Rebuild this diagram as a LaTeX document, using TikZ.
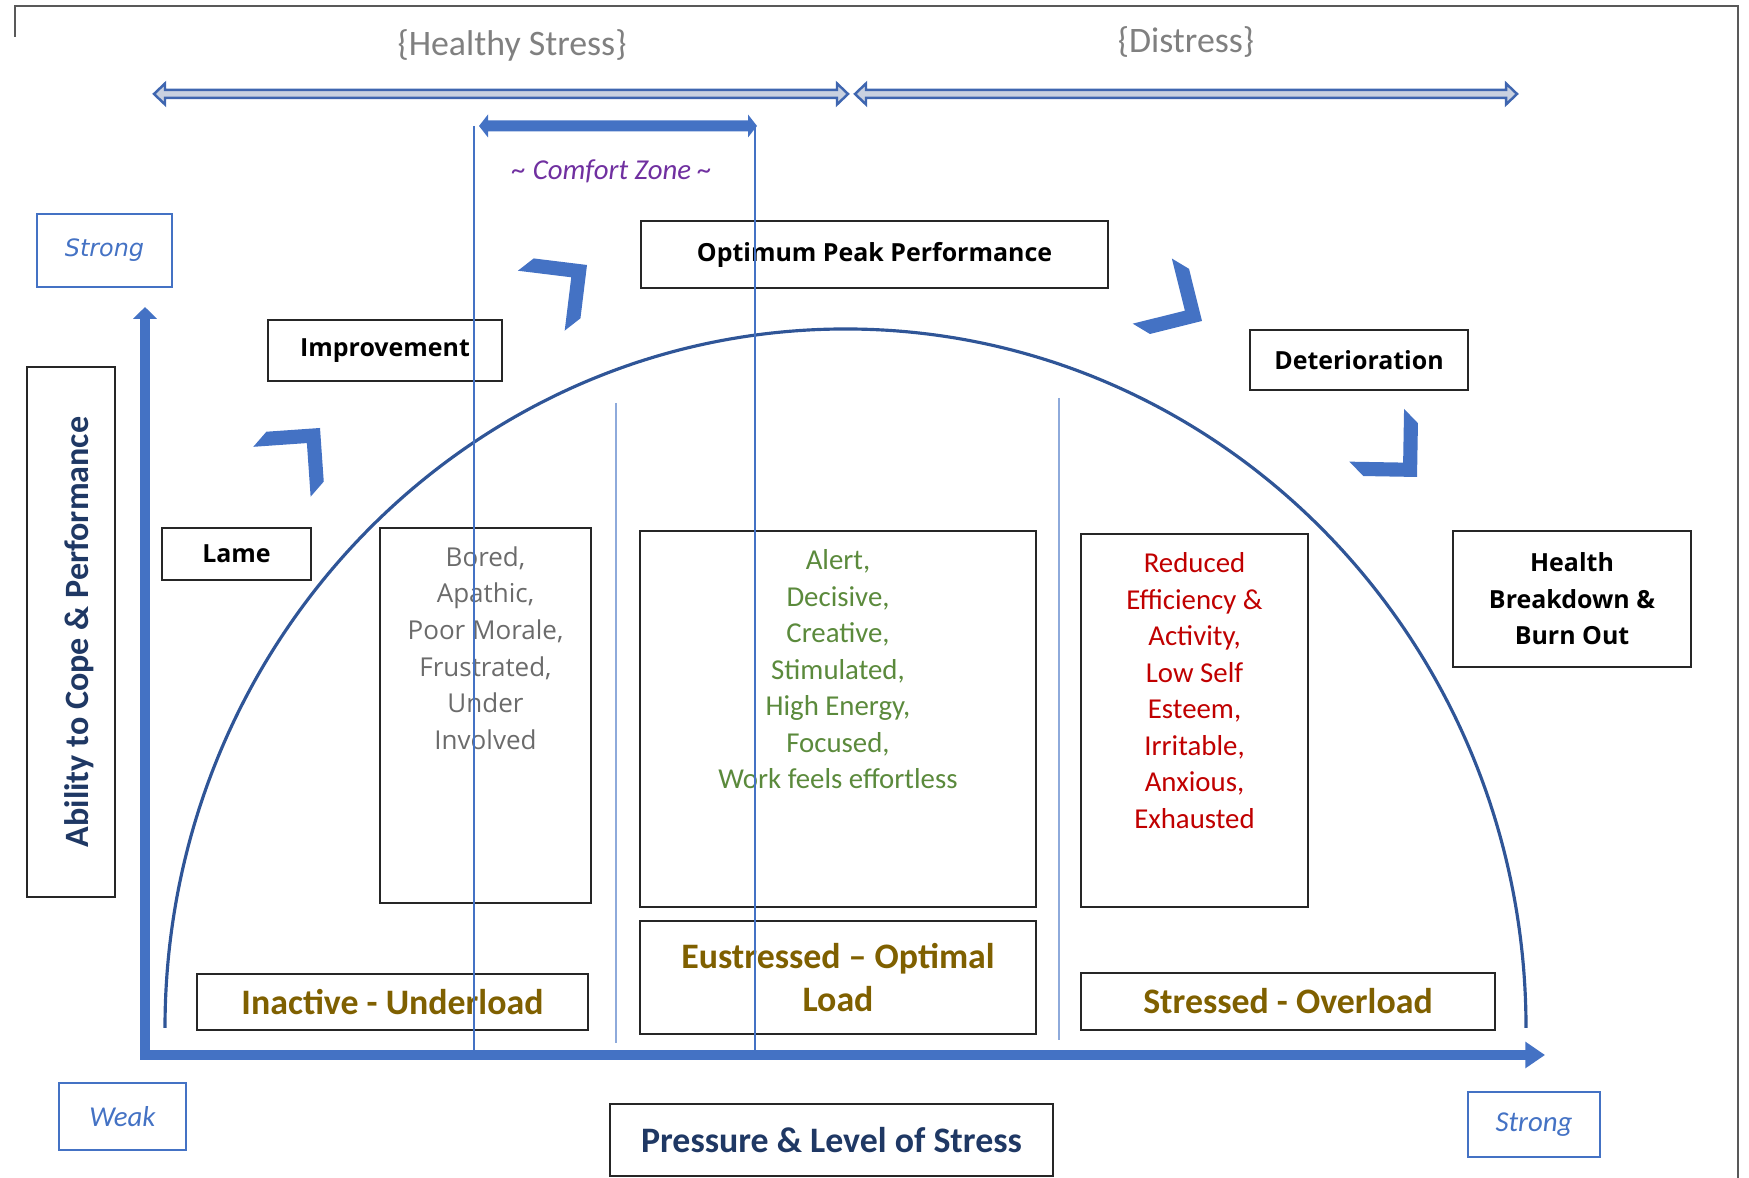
\documentclass[tikz,border=0pt]{standalone}
\usepackage{fontspec}
\setmainfont{Carlito}
\newfontfamily\tagfont{Open Sans}
\newfontfamily\widefont{DejaVu Sans}
\usetikzlibrary{positioning,arrows.meta}

\definecolor{axisblue}{HTML}{4472C4}
\definecolor{archblue}{HTML}{2F5597}
\definecolor{divblue}{HTML}{8EAADB}
\definecolor{spanblue}{HTML}{3F66B0}
\definecolor{spanfill}{HTML}{C9D1E0}
\definecolor{boxgray}{HTML}{262626}
\definecolor{framegray}{HTML}{595959}
\definecolor{softgrey}{HTML}{808080}
\definecolor{moodgrey}{HTML}{6B6B6B}
\definecolor{moodgreen}{HTML}{5B8A3C}
\definecolor{moodred}{HTML}{C00000}
\definecolor{loadgold}{HTML}{7F6000}
\definecolor{zonepurple}{HTML}{7030A0}
\definecolor{axisnavy}{HTML}{1F3864}

% block arrow with a head at both ends: style, left x, right x, y, half shaft, half head, head length
\newcommand{\spanarrow}[7]{%
  \path[#1] (#2,#4) -- ({#2+#7},{#4+#6}) -- ({#2+#7},{#4+#5})
    -- ({#3-#7},{#4+#5}) -- ({#3-#7},{#4+#6}) -- (#3,#4)
    -- ({#3-#7},{#4-#6}) -- ({#3-#7},{#4-#5}) -- ({#2+#7},{#4-#5})
    -- ({#2+#7},{#4-#6}) -- cycle;}

\tikzset{
  stagebox/.style={draw=boxgray, line width=0.6pt, inner sep=0pt, align=center,
    font=\tagfont\bfseries\fontsize{7.1}{10.4}\selectfont},
  moodbox/.style={draw=boxgray, line width=0.6pt, inner sep=0pt},
  moodtext/.style={inner sep=0pt, align=center, font=\fontsize{8.2}{10.4}\selectfont},
  loadbox/.style={draw=boxgray, line width=0.6pt, inner sep=0pt, align=center,
    text=loadgold, font=\bfseries\fontsize{10.2}{12.4}\selectfont},
  endbox/.style={draw=axisblue, line width=0.8pt, inner sep=0pt, text=axisblue,
    font=\itshape\fontsize{8.2}{10}\selectfont},
  axisbox/.style={draw=boxgray, line width=0.6pt, inner sep=0pt, text=axisnavy,
    font=\bfseries\fontsize{10.2}{12}\selectfont},
  axisline/.style={draw=axisblue, line width=2.6pt, line join=miter,
    {Triangle[length=3.4pt,width=6.6pt]}-{Triangle[length=5.6pt,width=7.2pt]}},
  archline/.style={draw=archblue, line width=0.9pt},
  zoneline/.style={draw=axisblue, line width=0.5pt},
  divider/.style={draw=divblue, line width=0.5pt},
  rangetext/.style={text=softgrey, font=\fontsize{10.2}{12}\selectfont},
  chev/.pic={\fill[axisblue] (0,0) -- (-38,38) -- (-58,38) -- (-20,0)
    -- (-58,-38) -- (-38,-38) -- cycle;}
}

\begin{document}
\begin{tikzpicture}[x=0.1mm, y=0.1mm]
  \useasboundingbox (0,0) rectangle (1749,1178);

  % frame
  \draw[framegray, line width=0.5pt] (15,1141) -- (15,1172) -- (1738,1172) -- (1738,0);

  % stress ranges
  \node[rangetext] (healthy) at (512,1133) {\{Healthy Stress\}};
  \node[rangetext] (distress) at (1186,1136) {\{Distress\}};
  \spanarrow{draw=spanblue, fill=spanfill, line width=0.7pt}{154}{848}{1084}{4}{10.5}{11}
  \spanarrow{draw=spanblue, fill=spanfill, line width=0.7pt}{855}{1517}{1084}{4}{10.5}{11}

  % comfort zone
  \coordinate (czL) at (474,1052);
  \coordinate (czR) at (755,1052);
  \spanarrow{fill=axisblue}{479}{757}{1052}{5.5}{11.5}{9}
  \node[text=zonepurple, font=\itshape\fontsize{8.2}{9}\selectfont] (comfort) at (612,1007)
    {\textasciitilde{} Comfort Zone \textasciitilde};

  % axes
  \coordinate (origin) at (145,123);
  \coordinate (ytip) at (145,871);
  \coordinate (xtip) at (1545,123);
  \draw[axisline] (ytip) -- (origin) -- (xtip);

  \node[endbox, font=\widefont\itshape\fontsize{6.8}{8}\selectfont,
    minimum width=13.5mm, minimum height=7.3mm] (ystrong) at (104.5,927.5) {Strong};
  \node[endbox, minimum width=12.7mm, minimum height=6.7mm] (weak) at (122.5,61.5) {Weak};
  \node[endbox, minimum width=13.2mm, minimum height=6.5mm] (xstrong) at (1534,53.5) {Strong};
  \node[axisbox, font=\bfseries\fontsize{9.7}{12}\selectfont, rotate=90,
    minimum width=53mm, minimum height=8.8mm] (ability) at (71,546)
    {\raisebox{-2.5pt}[7pt][2pt]{Ability to Cope \& Performance}};
  \node[axisbox, minimum width=44.3mm, minimum height=7.2mm] (pressure) at (831.5,38)
    {Pressure \& Level of Stress};

  % performance curve
  \coordinate (archL) at (165,150);
  \draw[archline] (archL) arc[start angle=180, end angle=0, x radius=680.5, y radius=699];

  % stages along the curve
  \node[stagebox, minimum width=14.9mm, minimum height=5.2mm] (lame) at (236.5,624) {Lame};
  \node[stagebox, minimum width=23.4mm, minimum height=6.1mm] (improve) at (385,827.5) {Improvement};
  \node[stagebox, minimum width=46.7mm, minimum height=6.7mm] (peak) at (874.5,923.5) {Optimum Peak Performance};
  \node[stagebox, minimum width=21.8mm, minimum height=6mm] (deter) at (1359,818) {Deterioration};
  \node[stagebox, minimum width=23.8mm, minimum height=13.6mm] (burnout) at (1572,579)
    {Health\\Breakdown \&\\Burn Out};

  \pic[rotate=49] at (320,750) {chev};
  \pic[rotate=38] at (587,913) {chev};
  \pic[rotate=-31] at (1202,857) {chev};
  \pic[rotate=-46] at (1417,701) {chev};

  % how each load feels
  \node[moodbox, minimum width=21.1mm, minimum height=37.5mm] (bored) at (485.5,462.5) {};
  \node[moodtext, text=moodgrey, font=\tagfont\fontsize{7.4}{10.4}\selectfont,
    below=1.9mm of bored.north] (boredtxt)
    {Bored,\\Apathic,\\Poor Morale,\\Frustrated,\\Under\\Involved};
  \node[moodbox, minimum width=39.6mm, minimum height=37.6mm] (alert) at (838,459) {};
  \node[moodtext, text=moodgreen, below=1.9mm of alert.north] (alerttxt)
    {Alert,\\Decisive,\\Creative,\\Stimulated,\\High Energy,\\Focused,\\Work feels effortless};
  \node[moodbox, minimum width=22.7mm, minimum height=37.3mm] (reduced) at (1194.5,457.5) {};
  \node[moodtext, text=moodred, below=1.9mm of reduced.north] (reducedtxt)
    {Reduced\\Efficiency \&\\Activity,\\Low Self\\Esteem,\\Irritable,\\Anxious,\\Exhausted};

  % load levels
  \node[loadbox, minimum width=39.1mm, minimum height=5.6mm] (under) at (392.5,176) {Inactive - Underload};
  \node[loadbox, minimum width=39.6mm, minimum height=11.3mm] (optimal) at (838,200.5)
    {Eustressed -- Optimal\\Load};
  \node[loadbox, minimum width=41.4mm, minimum height=5.7mm] (over) at (1288,176.5) {Stressed - Overload};

  % region dividers
  \draw[divider] (616,775) -- (616,135);
  \draw[divider] (1059,780) -- (1059,138);

  % comfort zone edges
  \draw[zoneline] (czL) -- (czL |- origin);
  \draw[zoneline] (czR) -- (czR |- origin);
\end{tikzpicture}
\end{document}
